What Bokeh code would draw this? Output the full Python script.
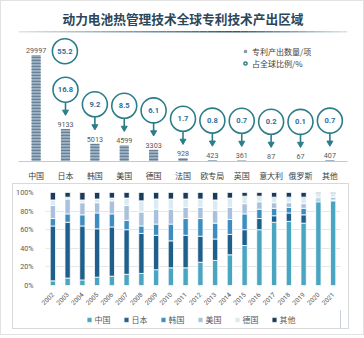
from bokeh.plotting import figure
from bokeh.models import (ColumnDataSource, Range1d, FactorRange, Legend, LegendItem,
                          FixedTicker, PrintfTickFormatter)
from bokeh.layouts import column
from bokeh.embed import file_html
from bokeh.resources import INLINE
from bokeh.core.properties import value

# ---------------- data ----------------
chart_title = "动力电池热管理技术全球专利技术产出区域"
regions = ["中国", "日本", "韩国", "美国", "德国", "法国", "欧专局", "英国", "意大利", "俄罗斯", "其他"]
patent_counts = [29997, 9133, 5013, 4599, 3303, 928, 423, 361, 87, 67, 407]
global_share = [55.2, 16.8, 9.2, 8.5, 6.1, 1.7, 0.8, 0.7, 0.2, 0.1, 0.7]
count_legend = "专利产出数量/项"
share_legend = "占全球比例/%"

years = [str(y) for y in range(2002, 2022)]
share_china = [5, 8, 6, 9, 10, 12, 13, 17, 19, 19, 25, 27, 33, 43, 60, 68, 69, 67, 90, 91]
share_japan = [59, 60, 58, 52, 53, 48, 43, 37, 29, 35, 28, 23, 22, 17, 12, 7, 9, 9, 1, 0.5]
share_korea = [8, 9, 12, 17, 14, 10, 8, 12, 18, 18, 19, 17, 16, 17, 10, 8, 6, 7, 2, 0.5]
share_usa = [14, 16, 13, 11, 14, 16, 15, 16, 16, 12, 12, 14, 13, 11, 8, 6, 5, 5, 2, 3]
share_germany = [6, 2, 3, 4, 3, 8, 12, 11, 11, 9, 9, 11, 10, 8, 6, 6, 6, 7, 4, 4]
share_other = [8, 5, 8, 7, 6, 6, 9, 7, 7, 7, 7, 8, 6, 4, 4, 5, 5, 5, 1, 1]
stack_labels = ["中国", "日本", "韩国", "美国", "德国", "其他"]
pct_ticks = [0, 20, 40, 60, 80, 100]

# ---------------- styles ----------------
CJK = "Noto Sans CJK SC"
NUM = "Roboto"
TEAL = "#2b7d88"
RING_TEXT = "#2f6e9c"
BAR_FILL = "#9fb2c1"
BAR_STRIPE = "#66829a"
STACK_COLORS = ["#4aa5c0", "#1f5f8b", "#3d8dc1", "#a9c1dc", "#dcebf1", "#1a3b5c"]

# ---------------- top chart ----------------
frame_h, tallest_px = 133, 108
upp = max(patent_counts) / tallest_px          # data units per pixel
y_end = frame_h * upp
x0, x1 = -0.6, len(regions) - 0.4

p1 = figure(width=362, height=182, x_range=Range1d(x0, x1), y_range=Range1d(0, y_end),
            output_backend="svg", toolbar_location=None, title=chart_title, y_axis_location=None,
            min_border_left=17, min_border_right=16, min_border_top=29, min_border_bottom=20)
p1.title.align = "center"
p1.title.text_font = CJK
p1.title.text_font_size = "12.7px"
p1.title.text_font_style = "bold"
p1.title.text_color = "#2d4659"
p1.title.standoff = 5
p1.outline_line_color = None
p1.grid.visible = False

idx = list(range(len(regions)))
xa = p1.xaxis[0]
xa.ticker = FixedTicker(ticks=idx)
xa.major_label_overrides = {i: r for i, r in zip(idx, regions)}
xa.major_label_text_font = CJK
xa.major_label_text_font_size = "8px"
xa.major_label_text_color = "#404040"
xa.major_tick_line_color = None
xa.minor_tick_line_color = None
xa.axis_line_color = "#c8c8c8"
xa.major_label_standoff = 2

# title underline (gradient, darkest right of centre)
nseg = 40
seg_l = [x0 + (x1 - x0) * k / nseg for k in range(nseg)]
seg_r = [x0 + (x1 - x0) * (k + 1) / nseg for k in range(nseg)]
seg_a = []
for k in range(nseg):
    t = (k + 0.5) / nseg
    w = max(0.0, 1 - abs(t - 0.66) / (0.66 if t < 0.66 else 0.34))
    seg_a.append(0.15 + 0.85 * w)
p1.quad(left=seg_l, right=seg_r, top=[y_end - 0.4 * upp] * nseg, bottom=[y_end - 2.0 * upp] * nseg,
        fill_color="#2f5b6e", fill_alpha=seg_a, line_color=None)

p1.vbar(x=idx, top=patent_counts, width=0.31, fill_color=BAR_FILL, line_color=None,
        hatch_pattern="horizontal_line", hatch_color=BAR_STRIPE, hatch_scale=3, hatch_weight=1.4)

p1.text(x=idx, y=[c + 2 * upp for c in patent_counts], text=[str(c) for c in patent_counts],
        text_align="center", text_baseline="bottom", text_font=value(NUM),
        text_font_size="7.2px", text_color="#595959")

lead = patent_counts.index(max(patent_counts))
ring_x = [i + (0.98 if i == lead else 0) for i in idx]
ring_y = [c + (4 if i == lead else 40) * upp for i, c in enumerate(patent_counts)]
others = [i for i in idx if i != lead]
p1.segment(x0=others, x1=others,
           y0=[patent_counts[i] + 27.5 * upp for i in others],
           y1=[patent_counts[i] + 19 * upp for i in others],
           line_color=TEAL, line_width=1.6)
p1.scatter(x=others, y=[patent_counts[i] + 17.5 * upp for i in others], marker="inverted_triangle",
           size=6, fill_color=TEAL, line_color=TEAL)
p1.scatter(x=ring_x, y=ring_y, marker="circle", size=25, fill_color="white",
           line_color=TEAL, line_width=1.6)
p1.text(x=ring_x, y=ring_y, text=[f"{s:.1f}" for s in global_share], text_align="center",
        text_baseline="middle", text_font=value(NUM), text_font_size="7.6px",
        text_font_style="bold", text_color=RING_TEXT)

# legend proxies (placed outside the visible range)
leg_bar = p1.scatter(x=[x0 - 5], y=[0], marker="square", size=5, fill_color="#8c9ba6", line_color=None)
leg_ring = p1.scatter(x=[x0 - 5], y=[0], marker="circle", size=6, fill_color="white",
                      line_color=TEAL, line_width=1.5)
leg1 = Legend(items=[LegendItem(label=count_legend, renderers=[leg_bar]),
                     LegendItem(label=share_legend, renderers=[leg_ring])],
              location=(223, 92), glyph_width=8, glyph_height=12, label_height=12, spacing=0,
              padding=0, margin=0, label_standoff=3, background_fill_alpha=0,
              border_line_color=None, label_text_font=CJK, label_text_font_size="8px",
              label_text_color="#404040")
p1.add_layout(leg1)

# ---------------- bottom chart ----------------
src = ColumnDataSource(dict(year=years, cn=share_china, jp=share_japan, kr=share_korea,
                            us=share_usa, de=share_germany, ot=share_other))
p2 = figure(width=335, height=126, x_range=FactorRange(factors=years), y_range=Range1d(0, 100),
            output_backend="svg", toolbar_location=None,
            min_border_left=30, min_border_right=8, min_border_top=8, min_border_bottom=24)
p2.outline_line_color = None
p2.xgrid.visible = False
p2.ygrid.grid_line_color = "#e6e6e6"
p2.ygrid.ticker = FixedTicker(ticks=pct_ticks)
p2.x_range.range_padding = 0

ya = p2.yaxis[0]
ya.ticker = FixedTicker(ticks=pct_ticks)
ya.formatter = PrintfTickFormatter(format="%d%%")
ya.axis_line_color = None
ya.major_tick_line_color = None
ya.minor_tick_line_color = None
ya.major_label_text_font = NUM
ya.major_label_text_font_size = "7.2px"
ya.major_label_text_color = "#595959"
ya.major_label_standoff = 6

xb = p2.xaxis[0]
xb.axis_line_color = None
xb.major_tick_line_color = None
xb.major_label_orientation = 0.785398
xb.major_label_text_font = NUM
xb.major_label_text_font_size = "6.5px"
xb.major_label_text_color = "#595959"
xb.major_label_standoff = 2

stackers = ["cn", "jp", "kr", "us", "de", "ot"]
p2.vbar_stack(stackers, x="year", width=0.36, source=src,
              fill_color=STACK_COLORS, line_color="white", line_width=0.8)

# legend strip for the stacked chart
p3 = figure(width=335, height=18, x_range=Range1d(0, 1), y_range=Range1d(0, 1),
            output_backend="svg", toolbar_location=None, x_axis_location=None,
            y_axis_location=None, min_border=0)
p3.outline_line_color = None
p3.grid.visible = False
proxies = [p3.vbar(x=[5], top=[1], width=0.1, fill_color=c, line_color="white", line_width=0.6)
           for c in STACK_COLORS]
leg2 = Legend(items=[LegendItem(label=l, renderers=[r]) for l, r in zip(stack_labels, proxies)],
              orientation="horizontal", location="center", glyph_width=6, glyph_height=6,
              label_height=10, label_standoff=3, spacing=8, padding=0, margin=0,
              background_fill_alpha=0, border_line_color=None, label_text_font=CJK,
              label_text_font_size="8px", label_text_color="#595959")
p3.add_layout(leg2)

box = column(p2, p3, spacing=0, styles={"border": "1px solid #d9d9d9"}, margin=(0, 0, 5, 11))
root = column(p1, box, spacing=0, styles={"border": "1px solid #e2e2e2"})
open("out.html", "w").write(file_html(root, INLINE))
